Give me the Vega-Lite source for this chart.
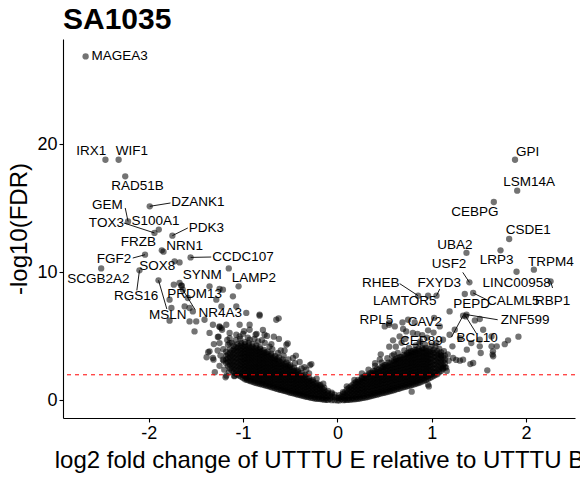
{
"$schema":"https://vega.github.io/schema/vega-lite/v6.json",
"width":512,"height":379,
"autosize":{"type":"none"},
"padding":{"left":63,"top":39,"right":5,"bottom":62},
"background":"white",
"title":{"text":"SA1035","anchor":"start","frame":"group","fontSize":30,"fontWeight":"bold","font":"Liberation Sans","color":"black","offset":4},
"config":{"view":{"stroke":null},
"axis":{"grid":false,"domainColor":"black","domainWidth":1.1,"tickColor":"black","tickWidth":1.1,"tickSize":4,"labelFont":"Liberation Sans","labelFontSize":18,"labelColor":"black","labelPadding":2,"titleFont":"Liberation Sans","titleFontSize":24,"titleFontWeight":"normal","titleColor":"black"}},
"datasets":{"pts":[
{"x":-2.67,"y":26.87,"g":"MAGEA3","lx":-2.31,"ly":26.87},
{"x":-2.46,"y":18.8,"g":"IRX1","lx":-2.61,"ly":19.51},
{"x":-2.32,"y":18.8,"g":"WIF1","lx":-2.18,"ly":19.51},
{"x":-2.25,"y":17.5,"g":"RAD51B","lx":-2.12,"ly":16.72},
{"x":-1.99,"y":15.16,"g":"DZANK1","lx":-1.48,"ly":15.47,"sx":-1.77,"sy":15.42},
{"x":-2.22,"y":13.98,"g":"GEM","lx":-2.44,"ly":15.29,"sx":-2.25,"sy":15.03},
{"x":-1.94,"y":13.08,"g":"TOX3","lx":-2.45,"ly":13.86,"sx":-2.265,"sy":13.86},
{"x":-1.894,"y":13.34,"g":"S100A1","lx":-1.93,"ly":13.98},
{"x":-1.75,"y":12.87,"g":"PDK3","lx":-1.39,"ly":13.47,"sx":-1.586,"sy":13.47},
{"x":-1.862,"y":11.72,"g":"FRZB","lx":-2.11,"ly":12.37},
{"x":-1.844,"y":11.62,"g":"NRN1","lx":-1.62,"ly":12.09},
{"x":-2.04,"y":11.38,"g":"FGF2","lx":-2.37,"ly":11.05,"sx":-2.17,"sy":11.12},
{"x":-1.557,"y":11.17,"g":"CCDC107","lx":-1.0,"ly":11.2,"sx":-1.338,"sy":11.2},
{"x":-1.727,"y":10.86,"g":"SOX8","lx":-1.91,"ly":10.52},
{"x":-2.505,"y":10.31,"g":"SCGB2A2","lx":-2.534,"ly":9.48},
{"x":-1.674,"y":10.78,"g":"SYNM","lx":-1.433,"ly":9.82},
{"x":-1.048,"y":8.91,"g":"LAMP2","lx":-0.885,"ly":9.53},
{"x":-2.099,"y":10.16,"g":"RGS16","lx":-2.134,"ly":8.13,"sx":-2.127,"sy":8.59},
{"x":-1.656,"y":8.96,"g":"PRDM13","lx":-1.515,"ly":8.34},
{"x":-1.897,"y":9.38,"g":"MSLN","lx":-1.798,"ly":6.7,"sx":-1.809,"sy":7.14},
{"x":-1.64,"y":8.65,"g":"NR4A3","lx":-1.242,"ly":6.83,"sx":-1.51,"sy":7.1},
{"x":1.884,"y":18.8,"g":"GPI","lx":2.017,"ly":19.38},
{"x":1.907,"y":16.38,"g":"LSM14A","lx":2.034,"ly":17.06},
{"x":1.659,"y":15.5,"g":"CEBPG","lx":1.458,"ly":14.69},
{"x":1.822,"y":12.61,"g":"CSDE1","lx":2.023,"ly":13.28},
{"x":1.369,"y":11.52,"g":"UBA2","lx":1.245,"ly":12.11},
{"x":1.73,"y":11.72,"g":"LRP3","lx":1.688,"ly":10.94},
{"x":1.4,"y":9.22,"g":"USF2","lx":1.185,"ly":10.66,"sx":1.33,"sy":10.0},
{"x":2.084,"y":10.21,"g":"TRPM4","lx":2.264,"ly":10.81},
{"x":1.9,"y":10.05,"g":"LINC00958","lx":1.9,"ly":9.17},
{"x":2.261,"y":9.3,"g":"RBP1","lx":2.282,"ly":7.73,"sx":2.282,"sy":8.78},
{"x":0.856,"y":8.18,"g":"RHEB","lx":0.46,"ly":9.17,"sx":0.661,"sy":9.12},
{"x":1.051,"y":8.18,"g":"FXYD3","lx":1.079,"ly":9.17,"sx":1.086,"sy":8.7},
{"x":0.962,"y":8.18,"g":"LAMTOR5","lx":0.714,"ly":7.73},
{"x":1.44,"y":8.39,"g":"CALML5","lx":1.864,"ly":7.73,"sx":1.582,"sy":7.87},
{"x":1.351,"y":8.31,"g":"PEPD","lx":1.423,"ly":7.55},
{"x":0.69,"y":6.09,"g":"RPL5","lx":0.414,"ly":6.3},
{"x":1.026,"y":6.44,"g":"CAV2","lx":0.927,"ly":6.09},
{"x":1.369,"y":6.7,"g":"ZNF599","lx":1.99,"ly":6.3,"sx":1.7,"sy":6.3},
{"x":1.333,"y":6.62,"g":"CEP89","lx":0.892,"ly":4.61,"sx":1.21,"sy":4.95},
{"x":1.362,"y":6.56,"g":"BCL10","lx":1.482,"ly":4.87,"sx":1.476,"sy":5.21},
{"x":-1.515,"y":5.39},{"x":-1.37,"y":3.77},{"x":-1.387,"y":3.37},{"x":-1.314,"y":3.18},{"x":-1.26,"y":4.98},{"x":-1.168,"y":4.72},{"x":-1.223,"y":5.52},{"x":-1.186,"y":1.81},{"x":-1.094,"y":1.89},{"x":-1.205,"y":3.1},{"x":-0.967,"y":1.76},{"x":-0.291,"y":2.75},{"x":-0.527,"y":4.45},{"x":-0.674,"y":4.98},{"x":-0.747,"y":5.04},{"x":-0.857,"y":5.2},
{"x":-1.152,"y":10.31},{"x":-1.356,"y":8.91},{"x":-1.214,"y":8.65},{"x":-1.108,"y":8.13},{"x":-1.284,"y":7.87},{"x":-1.072,"y":7.34},{"x":-1.497,"y":6.17},{"x":-1.409,"y":6.3},{"x":-1.32,"y":5.91},{"x":-1.25,"y":5.78},{"x":-1.178,"y":5.91},{"x":-1.356,"y":5.27},{"x":-1.268,"y":4.95},{"x":-1.143,"y":5.27},{"x":-1.037,"y":5.0},{"x":-0.931,"y":5.52},{"x":-0.867,"y":5.13},{"x":-0.772,"y":5.13},{"x":-0.648,"y":6.3},{"x":-1.356,"y":3.83},{"x":-1.32,"y":3.31},{"x":-1.143,"y":4.48},{"x":-0.825,"y":6.7},{"x":-0.931,"y":5.91},{"x":-1.23,"y":5.65},{"x":-1.214,"y":3.18},{"x":-1.178,"y":1.93},{"x":-1.09,"y":1.93},{"x":-0.276,"y":2.84},{"x":-0.541,"y":4.35},{"x":-0.471,"y":3.31},
{"x":-1.735,"y":9.04},{"x":-1.674,"y":9.17},{"x":-1.65,"y":8.96},{"x":-1.586,"y":8.0},{"x":-1.533,"y":6.95},{"x":-1.78,"y":7.87},{"x":-1.76,"y":7.22},{"x":-1.568,"y":7.22},{"x":-1.25,"y":8.7},{"x":-1.23,"y":7.34},{"x":-0.966,"y":6.83},{"x":-0.825,"y":6.62},{"x":-0.623,"y":6.41},{"x":-1.037,"y":5.91},{"x":-1.78,"y":6.23},{"x":-1.62,"y":7.34},{"x":-1.568,"y":6.17},{"x":-1.25,"y":5.73},{"x":-1.25,"y":4.48},{"x":-1.143,"y":4.87},{"x":-1.072,"y":5.13},{"x":-0.4,"y":3.0},{"x":-0.6,"y":3.9},{"x":-0.7,"y":4.4},{"x":-0.95,"y":4.9},{"x":-1.0,"y":5.2},{"x":-0.8,"y":4.7},{"x":-0.35,"y":2.6},
{"x":-0.22,"y":1.7},{"x":-0.3,"y":2.1},{"x":-0.38,"y":2.5},{"x":-0.45,"y":2.9},{"x":-0.52,"y":3.2},{"x":-0.57,"y":3.5},{"x":-0.63,"y":3.7},{"x":-0.69,"y":4.0},{"x":-0.72,"y":4.2},{"x":-0.77,"y":4.5},{"x":-0.84,"y":4.6},{"x":-0.88,"y":4.8},{"x":-0.93,"y":4.75},{"x":-1.03,"y":4.8},{"x":-1.08,"y":4.7},{"x":-1.12,"y":4.5},{"x":-1.16,"y":4.35},{"x":-1.21,"y":4.0},{"x":-1.24,"y":3.5},{"x":-1.27,"y":3.9},{"x":-1.31,"y":4.4},{"x":-0.99,"y":5.4},{"x":-0.79,"y":5.5},{"x":-0.62,"y":4.8},{"x":-0.56,"y":3.9},{"x":-0.44,"y":3.5},{"x":-0.33,"y":2.4},{"x":-0.15,"y":1.3},{"x":-1.2,"y":2.4},{"x":-1.25,"y":2.7},{"x":-1.3,"y":2.2},{"x":-1.15,"y":2.2},
{"x":0.59,"y":4.69},{"x":0.502,"y":5.78},{"x":0.548,"y":5.91},{"x":0.73,"y":5.39},{"x":0.8,"y":5.27},{"x":1.19,"y":6.95},{"x":1.12,"y":4.74},{"x":1.22,"y":4.22},{"x":1.227,"y":3.31},{"x":1.333,"y":3.18},{"x":1.44,"y":2.92},{"x":0.962,"y":1.23},{"x":1.12,"y":2.53},{"x":1.635,"y":4.22},{"x":1.652,"y":3.44},{"x":1.51,"y":4.74},{"x":1.19,"y":5.13},{"x":1.3,"y":4.87},
{"x":1.92,"y":4.98},{"x":1.775,"y":4.39},{"x":1.59,"y":2.35},{"x":1.646,"y":3.58},{"x":1.52,"y":3.7},{"x":1.373,"y":3.96},{"x":1.3,"y":3.1},{"x":1.26,"y":3.16},{"x":1.41,"y":2.84},{"x":1.153,"y":2.56},{"x":0.97,"y":1.09},{"x":1.1,"y":3.51},{"x":0.788,"y":0.68},
{"x":1.51,"y":6.36},{"x":1.458,"y":6.25},{"x":1.635,"y":5.0},{"x":1.546,"y":5.52},{"x":1.81,"y":4.69},{"x":1.69,"y":4.22},{"x":1.65,"y":3.83},{"x":1.086,"y":5.78},{"x":0.962,"y":5.47},{"x":0.82,"y":6.09},{"x":0.75,"y":6.3},{"x":0.548,"y":6.05},{"x":0.609,"y":5.78},{"x":0.697,"y":5.58},{"x":1.245,"y":5.52},{"x":1.42,"y":4.48},{"x":1.51,"y":4.22},{"x":0.45,"y":3.2},{"x":0.62,"y":4.2},{"x":0.68,"y":4.5},{"x":0.88,"y":4.6},{"x":0.95,"y":4.9},{"x":1.05,"y":4.5},{"x":0.9,"y":5.1},{"x":0.6,"y":3.6},{"x":0.4,"y":2.9},
{"x":0.18,"y":1.6},{"x":0.26,"y":2.1},{"x":0.33,"y":2.4},{"x":0.4,"y":2.7},{"x":0.47,"y":2.95},{"x":0.53,"y":3.3},{"x":0.58,"y":3.5},{"x":0.64,"y":3.7},{"x":0.71,"y":3.9},{"x":0.76,"y":4.1},{"x":0.83,"y":4.3},{"x":0.87,"y":4.45},{"x":0.93,"y":4.35},{"x":1.0,"y":4.3},{"x":1.04,"y":4.2},{"x":1.08,"y":4.05},{"x":1.13,"y":3.85},{"x":1.17,"y":3.6},{"x":1.18,"y":3.1},{"x":1.16,"y":2.3},{"x":0.55,"y":4.2},{"x":0.72,"y":4.8},{"x":0.85,"y":5.2},{"x":0.66,"y":5.0},{"x":1.02,"y":5.3},{"x":0.1,"y":1.1},{"x":0.46,"y":3.6},
{"x":0.0,"y":0.0},{"x":0.0,"y":0.2},
{"x":-0.03,"y":0.02},{"x":-0.03,"y":0.25},{"x":-0.03,"y":0.45},
{"x":-0.06,"y":0.02},{"x":-0.06,"y":0.25},{"x":-0.06,"y":0.5},{"x":-0.06,"y":0.6},
{"x":-0.1,"y":0.04},{"x":-0.1,"y":0.3},{"x":-0.1,"y":0.55},{"x":-0.1,"y":0.75},
{"x":-0.14,"y":0.06},{"x":-0.14,"y":0.3},{"x":-0.14,"y":0.55},{"x":-0.14,"y":0.8},{"x":-0.14,"y":1.0},
{"x":-0.18,"y":0.1},{"x":-0.18,"y":0.35},{"x":-0.18,"y":0.6},{"x":-0.18,"y":0.85},{"x":-0.18,"y":1.1},{"x":-0.18,"y":1.2},
{"x":-0.22,"y":0.13},{"x":-0.22,"y":0.4},{"x":-0.22,"y":0.65},{"x":-0.22,"y":0.9},{"x":-0.22,"y":1.15},{"x":-0.22,"y":1.35},
{"x":-0.26,"y":0.18},{"x":-0.26,"y":0.45},{"x":-0.26,"y":0.7},{"x":-0.26,"y":0.95},{"x":-0.26,"y":1.2},{"x":-0.26,"y":1.45},{"x":-0.26,"y":1.6},
{"x":-0.3,"y":0.24},{"x":-0.3,"y":0.5},{"x":-0.3,"y":0.75},{"x":-0.3,"y":1.0},{"x":-0.3,"y":1.25},{"x":-0.3,"y":1.5},{"x":-0.3,"y":1.75},
{"x":-0.34,"y":0.3},{"x":-0.34,"y":0.55},{"x":-0.34,"y":0.8},{"x":-0.34,"y":1.05},{"x":-0.34,"y":1.3},{"x":-0.34,"y":1.55},{"x":-0.34,"y":1.8},{"x":-0.34,"y":2.0},
{"x":-0.38,"y":0.38},{"x":-0.38,"y":0.62},{"x":-0.38,"y":0.88},{"x":-0.38,"y":1.12},{"x":-0.38,"y":1.38},{"x":-0.38,"y":1.62},{"x":-0.38,"y":1.88},{"x":-0.38,"y":2.15},
{"x":-0.42,"y":0.45},{"x":-0.42,"y":0.7},{"x":-0.42,"y":0.95},{"x":-0.42,"y":1.2},{"x":-0.42,"y":1.45},{"x":-0.42,"y":1.7},{"x":-0.42,"y":1.95},{"x":-0.42,"y":2.2},{"x":-0.42,"y":2.35},
{"x":-0.46,"y":0.53},{"x":-0.46,"y":0.78},{"x":-0.46,"y":1.03},{"x":-0.46,"y":1.28},{"x":-0.46,"y":1.53},{"x":-0.46,"y":1.78},{"x":-0.46,"y":2.03},{"x":-0.46,"y":2.28},{"x":-0.46,"y":2.55},
{"x":-0.5,"y":0.6},{"x":-0.5,"y":0.85},{"x":-0.5,"y":1.1},{"x":-0.5,"y":1.35},{"x":-0.5,"y":1.6},{"x":-0.5,"y":1.85},{"x":-0.5,"y":2.1},{"x":-0.5,"y":2.35},{"x":-0.5,"y":2.6},{"x":-0.5,"y":2.75},
{"x":-0.54,"y":0.7},{"x":-0.54,"y":0.95},{"x":-0.54,"y":1.2},{"x":-0.54,"y":1.45},{"x":-0.54,"y":1.7},{"x":-0.54,"y":1.95},{"x":-0.54,"y":2.2},{"x":-0.54,"y":2.45},{"x":-0.54,"y":2.7},{"x":-0.54,"y":2.95},
{"x":-0.58,"y":0.78},{"x":-0.58,"y":1.03},{"x":-0.58,"y":1.28},{"x":-0.58,"y":1.53},{"x":-0.58,"y":1.78},{"x":-0.58,"y":2.03},{"x":-0.58,"y":2.28},{"x":-0.58,"y":2.53},{"x":-0.58,"y":2.78},{"x":-0.58,"y":3.03},{"x":-0.58,"y":3.2},
{"x":-0.62,"y":0.85},{"x":-0.62,"y":1.1},{"x":-0.62,"y":1.35},{"x":-0.62,"y":1.6},{"x":-0.62,"y":1.85},{"x":-0.62,"y":2.1},{"x":-0.62,"y":2.35},{"x":-0.62,"y":2.6},{"x":-0.62,"y":2.85},{"x":-0.62,"y":3.1},{"x":-0.62,"y":3.35},
{"x":-0.66,"y":0.95},{"x":-0.66,"y":1.2},{"x":-0.66,"y":1.45},{"x":-0.66,"y":1.7},{"x":-0.66,"y":1.95},{"x":-0.66,"y":2.2},{"x":-0.66,"y":2.45},{"x":-0.66,"y":2.7},{"x":-0.66,"y":2.95},{"x":-0.66,"y":3.2},{"x":-0.66,"y":3.45},
{"x":-0.7,"y":1.03},{"x":-0.7,"y":1.28},{"x":-0.7,"y":1.53},{"x":-0.7,"y":1.78},{"x":-0.7,"y":2.03},{"x":-0.7,"y":2.28},{"x":-0.7,"y":2.53},{"x":-0.7,"y":2.78},{"x":-0.7,"y":3.03},{"x":-0.7,"y":3.28},{"x":-0.7,"y":3.53},{"x":-0.7,"y":3.65},
{"x":-0.74,"y":1.12},{"x":-0.74,"y":1.37},{"x":-0.74,"y":1.62},{"x":-0.74,"y":1.87},{"x":-0.74,"y":2.12},{"x":-0.74,"y":2.37},{"x":-0.74,"y":2.62},{"x":-0.74,"y":2.87},{"x":-0.74,"y":3.12},{"x":-0.74,"y":3.37},{"x":-0.74,"y":3.62},{"x":-0.74,"y":3.8},
{"x":-0.78,"y":1.2},{"x":-0.78,"y":1.45},{"x":-0.78,"y":1.7},{"x":-0.78,"y":1.95},{"x":-0.78,"y":2.2},{"x":-0.78,"y":2.45},{"x":-0.78,"y":2.7},{"x":-0.78,"y":2.95},{"x":-0.78,"y":3.2},{"x":-0.78,"y":3.45},{"x":-0.78,"y":3.7},{"x":-0.78,"y":3.95},
{"x":-0.82,"y":1.28},{"x":-0.82,"y":1.53},{"x":-0.82,"y":1.78},{"x":-0.82,"y":2.03},{"x":-0.82,"y":2.28},{"x":-0.82,"y":2.53},{"x":-0.82,"y":2.78},{"x":-0.82,"y":3.03},{"x":-0.82,"y":3.28},{"x":-0.82,"y":3.53},{"x":-0.82,"y":3.78},{"x":-0.82,"y":4.03},{"x":-0.82,"y":4.15},
{"x":-0.86,"y":1.36},{"x":-0.86,"y":1.61},{"x":-0.86,"y":1.86},{"x":-0.86,"y":2.11},{"x":-0.86,"y":2.36},{"x":-0.86,"y":2.61},{"x":-0.86,"y":2.86},{"x":-0.86,"y":3.11},{"x":-0.86,"y":3.36},{"x":-0.86,"y":3.61},{"x":-0.86,"y":3.86},{"x":-0.86,"y":4.11},{"x":-0.86,"y":4.3},
{"x":-0.9,"y":1.45},{"x":-0.9,"y":1.7},{"x":-0.9,"y":1.95},{"x":-0.9,"y":2.2},{"x":-0.9,"y":2.45},{"x":-0.9,"y":2.7},{"x":-0.9,"y":2.95},{"x":-0.9,"y":3.2},{"x":-0.9,"y":3.45},{"x":-0.9,"y":3.7},{"x":-0.9,"y":3.95},{"x":-0.9,"y":4.2},{"x":-0.9,"y":4.4},
{"x":-0.94,"y":1.55},{"x":-0.94,"y":1.8},{"x":-0.94,"y":2.05},{"x":-0.94,"y":2.3},{"x":-0.94,"y":2.55},{"x":-0.94,"y":2.8},{"x":-0.94,"y":3.05},{"x":-0.94,"y":3.3},{"x":-0.94,"y":3.55},{"x":-0.94,"y":3.8},{"x":-0.94,"y":4.05},{"x":-0.94,"y":4.3},{"x":-0.94,"y":4.5},
{"x":-0.98,"y":1.65},{"x":-0.98,"y":1.9},{"x":-0.98,"y":2.15},{"x":-0.98,"y":2.4},{"x":-0.98,"y":2.65},{"x":-0.98,"y":2.9},{"x":-0.98,"y":3.15},{"x":-0.98,"y":3.4},{"x":-0.98,"y":3.65},{"x":-0.98,"y":3.9},{"x":-0.98,"y":4.15},{"x":-0.98,"y":4.4},{"x":-0.98,"y":4.55},
{"x":-1.02,"y":1.85},{"x":-1.02,"y":2.1},{"x":-1.02,"y":2.35},{"x":-1.02,"y":2.6},{"x":-1.02,"y":2.85},{"x":-1.02,"y":3.1},{"x":-1.02,"y":3.35},{"x":-1.02,"y":3.6},{"x":-1.02,"y":3.85},{"x":-1.02,"y":4.1},{"x":-1.02,"y":4.35},{"x":-1.02,"y":4.5},
{"x":-1.06,"y":2.0},{"x":-1.06,"y":2.3},{"x":-1.06,"y":2.6},{"x":-1.06,"y":2.9},{"x":-1.06,"y":3.2},{"x":-1.06,"y":3.5},{"x":-1.06,"y":3.8},{"x":-1.06,"y":4.1},{"x":-1.06,"y":4.4},
{"x":-1.1,"y":2.2},{"x":-1.1,"y":2.5},{"x":-1.1,"y":2.8},{"x":-1.1,"y":3.1},{"x":-1.1,"y":3.4},{"x":-1.1,"y":3.7},{"x":-1.1,"y":4.0},{"x":-1.1,"y":4.25},
{"x":-1.14,"y":2.5},{"x":-1.14,"y":2.8},{"x":-1.14,"y":3.1},{"x":-1.14,"y":3.4},{"x":-1.14,"y":3.7},{"x":-1.14,"y":4.0},
{"x":-1.18,"y":2.9},{"x":-1.18,"y":3.2},{"x":-1.18,"y":3.5},{"x":-1.18,"y":3.8},
{"x":-0.08,"y":0.12},{"x":-0.08,"y":0.38},
{"x":-0.12,"y":0.05},{"x":-0.12,"y":0.18},{"x":-0.12,"y":0.42},{"x":-0.12,"y":0.65},
{"x":-0.16,"y":0.08},{"x":-0.16,"y":0.2},{"x":-0.16,"y":0.45},{"x":-0.16,"y":0.7},{"x":-0.16,"y":0.92},
{"x":-0.2,"y":0.12},{"x":-0.2,"y":0.25},{"x":-0.2,"y":0.5},{"x":-0.2,"y":0.75},{"x":-0.2,"y":1.0},{"x":-0.2,"y":1.22},
{"x":-0.24,"y":0.15},{"x":-0.24,"y":0.28},{"x":-0.24,"y":0.55},{"x":-0.24,"y":0.8},{"x":-0.24,"y":1.05},{"x":-0.24,"y":1.3},
{"x":-0.28,"y":0.2},{"x":-0.28,"y":0.35},{"x":-0.28,"y":0.6},{"x":-0.28,"y":0.85},{"x":-0.28,"y":1.1},{"x":-0.28,"y":1.35},{"x":-0.28,"y":1.55},
{"x":-0.32,"y":0.27},{"x":-0.32,"y":0.4},{"x":-0.32,"y":0.65},{"x":-0.32,"y":0.9},{"x":-0.32,"y":1.15},{"x":-0.32,"y":1.4},{"x":-0.32,"y":1.65},
{"x":-0.36,"y":0.34},{"x":-0.36,"y":0.48},{"x":-0.36,"y":0.72},{"x":-0.36,"y":0.98},{"x":-0.36,"y":1.22},{"x":-0.36,"y":1.48},{"x":-0.36,"y":1.72},{"x":-0.36,"y":1.95},
{"x":-0.4,"y":0.42},{"x":-0.4,"y":0.55},{"x":-0.4,"y":0.8},{"x":-0.4,"y":1.05},{"x":-0.4,"y":1.3},{"x":-0.4,"y":1.55},{"x":-0.4,"y":1.8},{"x":-0.4,"y":2.05},
{"x":-0.44,"y":0.5},{"x":-0.44,"y":0.62},{"x":-0.44,"y":0.88},{"x":-0.44,"y":1.12},{"x":-0.44,"y":1.38},{"x":-0.44,"y":1.62},{"x":-0.44,"y":1.88},{"x":-0.44,"y":2.12},{"x":-0.44,"y":2.35},
{"x":-0.48,"y":0.57},{"x":-0.48,"y":0.72},{"x":-0.48,"y":0.98},{"x":-0.48,"y":1.22},{"x":-0.48,"y":1.48},{"x":-0.48,"y":1.72},{"x":-0.48,"y":1.98},{"x":-0.48,"y":2.22},{"x":-0.48,"y":2.45},
{"x":-0.52,"y":0.65},{"x":-0.52,"y":0.8},{"x":-0.52,"y":1.05},{"x":-0.52,"y":1.3},{"x":-0.52,"y":1.55},{"x":-0.52,"y":1.8},{"x":-0.52,"y":2.05},{"x":-0.52,"y":2.3},{"x":-0.52,"y":2.55},{"x":-0.52,"y":2.75},
{"x":-0.56,"y":0.74},{"x":-0.56,"y":0.88},{"x":-0.56,"y":1.12},{"x":-0.56,"y":1.38},{"x":-0.56,"y":1.62},{"x":-0.56,"y":1.88},{"x":-0.56,"y":2.12},{"x":-0.56,"y":2.38},{"x":-0.56,"y":2.62},{"x":-0.56,"y":2.85},
{"x":-0.6,"y":0.82},{"x":-0.6,"y":0.95},{"x":-0.6,"y":1.2},{"x":-0.6,"y":1.45},{"x":-0.6,"y":1.7},{"x":-0.6,"y":1.95},{"x":-0.6,"y":2.2},{"x":-0.6,"y":2.45},{"x":-0.6,"y":2.7},{"x":-0.6,"y":2.95},
{"x":-0.64,"y":0.9},{"x":-0.64,"y":1.05},{"x":-0.64,"y":1.3},{"x":-0.64,"y":1.55},{"x":-0.64,"y":1.8},{"x":-0.64,"y":2.05},{"x":-0.64,"y":2.3},{"x":-0.64,"y":2.55},{"x":-0.64,"y":2.8},{"x":-0.64,"y":3.05},{"x":-0.64,"y":3.25},
{"x":-0.68,"y":0.98},{"x":-0.68,"y":1.12},{"x":-0.68,"y":1.38},{"x":-0.68,"y":1.62},{"x":-0.68,"y":1.88},{"x":-0.68,"y":2.12},{"x":-0.68,"y":2.38},{"x":-0.68,"y":2.62},{"x":-0.68,"y":2.88},{"x":-0.68,"y":3.12},{"x":-0.68,"y":3.35},
{"x":-0.72,"y":1.08},{"x":-0.72,"y":1.2},{"x":-0.72,"y":1.45},{"x":-0.72,"y":1.7},{"x":-0.72,"y":1.95},{"x":-0.72,"y":2.2},{"x":-0.72,"y":2.45},{"x":-0.72,"y":2.7},{"x":-0.72,"y":2.95},{"x":-0.72,"y":3.2},{"x":-0.72,"y":3.45},
{"x":-0.76,"y":1.16},{"x":-0.76,"y":1.3},{"x":-0.76,"y":1.55},{"x":-0.76,"y":1.8},{"x":-0.76,"y":2.05},{"x":-0.76,"y":2.3},{"x":-0.76,"y":2.55},{"x":-0.76,"y":2.8},{"x":-0.76,"y":3.05},{"x":-0.76,"y":3.3},{"x":-0.76,"y":3.55},{"x":-0.76,"y":3.75},
{"x":-0.8,"y":1.25},{"x":-0.8,"y":1.38},{"x":-0.8,"y":1.62},{"x":-0.8,"y":1.88},{"x":-0.8,"y":2.12},{"x":-0.8,"y":2.38},{"x":-0.8,"y":2.62},{"x":-0.8,"y":2.88},{"x":-0.8,"y":3.12},{"x":-0.8,"y":3.38},{"x":-0.8,"y":3.62},{"x":-0.8,"y":3.85},
{"x":-0.84,"y":1.32},{"x":-0.84,"y":1.45},{"x":-0.84,"y":1.7},{"x":-0.84,"y":1.95},{"x":-0.84,"y":2.2},{"x":-0.84,"y":2.45},{"x":-0.84,"y":2.7},{"x":-0.84,"y":2.95},{"x":-0.84,"y":3.2},{"x":-0.84,"y":3.45},{"x":-0.84,"y":3.7},{"x":-0.84,"y":3.95},
{"x":-0.88,"y":1.4},{"x":-0.88,"y":1.55},{"x":-0.88,"y":1.8},{"x":-0.88,"y":2.05},{"x":-0.88,"y":2.3},{"x":-0.88,"y":2.55},{"x":-0.88,"y":2.8},{"x":-0.88,"y":3.05},{"x":-0.88,"y":3.3},{"x":-0.88,"y":3.55},{"x":-0.88,"y":3.8},{"x":-0.88,"y":4.05},
{"x":-0.92,"y":1.5},{"x":-0.92,"y":1.62},{"x":-0.92,"y":1.88},{"x":-0.92,"y":2.12},{"x":-0.92,"y":2.38},{"x":-0.92,"y":2.62},{"x":-0.92,"y":2.88},{"x":-0.92,"y":3.12},{"x":-0.92,"y":3.38},{"x":-0.92,"y":3.62},{"x":-0.92,"y":3.88},{"x":-0.92,"y":4.12},
{"x":-0.96,"y":1.6},{"x":-0.96,"y":1.72},{"x":-0.96,"y":1.98},{"x":-0.96,"y":2.22},{"x":-0.96,"y":2.48},{"x":-0.96,"y":2.72},{"x":-0.96,"y":2.98},{"x":-0.96,"y":3.22},{"x":-0.96,"y":3.48},{"x":-0.96,"y":3.72},{"x":-0.96,"y":3.98},{"x":-0.96,"y":4.22},
{"x":-1.0,"y":1.75},{"x":-1.0,"y":1.98},{"x":-1.0,"y":2.22},{"x":-1.0,"y":2.48},{"x":-1.0,"y":2.72},{"x":-1.0,"y":2.98},{"x":-1.0,"y":3.22},{"x":-1.0,"y":3.48},{"x":-1.0,"y":3.72},{"x":-1.0,"y":3.98},{"x":-1.0,"y":4.22},
{"x":-1.04,"y":1.92},{"x":-1.04,"y":2.15},{"x":-1.04,"y":2.45},{"x":-1.04,"y":2.75},{"x":-1.04,"y":3.05},{"x":-1.04,"y":3.35},{"x":-1.04,"y":3.65},{"x":-1.04,"y":3.95},{"x":-1.04,"y":4.25},
{"x":-1.08,"y":2.1},{"x":-1.08,"y":2.4},{"x":-1.08,"y":2.7},{"x":-1.08,"y":3.0},{"x":-1.08,"y":3.3},{"x":-1.08,"y":3.6},{"x":-1.08,"y":3.9},{"x":-1.08,"y":4.15},
{"x":-1.12,"y":2.35},{"x":-1.12,"y":2.65},{"x":-1.12,"y":2.95},{"x":-1.12,"y":3.25},{"x":-1.12,"y":3.55},{"x":-1.12,"y":3.85},
{"x":-1.16,"y":2.7},{"x":-1.16,"y":3.0},{"x":-1.16,"y":3.3},{"x":-1.16,"y":3.6},
{"x":0.02,"y":0.0},{"x":0.02,"y":0.2},{"x":0.02,"y":0.4},
{"x":0.06,"y":0.02},{"x":0.06,"y":0.25},{"x":0.06,"y":0.5},{"x":0.06,"y":0.65},
{"x":0.1,"y":0.04},{"x":0.1,"y":0.3},{"x":0.1,"y":0.55},{"x":0.1,"y":0.85},
{"x":0.14,"y":0.06},{"x":0.14,"y":0.32},{"x":0.14,"y":0.58},{"x":0.14,"y":0.84},{"x":0.14,"y":1.1},
{"x":0.18,"y":0.09},{"x":0.18,"y":0.35},{"x":0.18,"y":0.6},{"x":0.18,"y":0.85},{"x":0.18,"y":1.1},{"x":0.18,"y":1.35},
{"x":0.22,"y":0.13},{"x":0.22,"y":0.4},{"x":0.22,"y":0.65},{"x":0.22,"y":0.9},{"x":0.22,"y":1.15},{"x":0.22,"y":1.4},{"x":0.22,"y":1.6},
{"x":0.26,"y":0.18},{"x":0.26,"y":0.45},{"x":0.26,"y":0.7},{"x":0.26,"y":0.95},{"x":0.26,"y":1.2},{"x":0.26,"y":1.45},{"x":0.26,"y":1.7},{"x":0.26,"y":1.8},
{"x":0.3,"y":0.23},{"x":0.3,"y":0.5},{"x":0.3,"y":0.75},{"x":0.3,"y":1.0},{"x":0.3,"y":1.25},{"x":0.3,"y":1.5},{"x":0.3,"y":1.75},{"x":0.3,"y":1.95},
{"x":0.34,"y":0.3},{"x":0.34,"y":0.55},{"x":0.34,"y":0.8},{"x":0.34,"y":1.05},{"x":0.34,"y":1.3},{"x":0.34,"y":1.55},{"x":0.34,"y":1.8},{"x":0.34,"y":2.1},
{"x":0.38,"y":0.38},{"x":0.38,"y":0.63},{"x":0.38,"y":0.88},{"x":0.38,"y":1.13},{"x":0.38,"y":1.38},{"x":0.38,"y":1.63},{"x":0.38,"y":1.88},{"x":0.38,"y":2.13},{"x":0.38,"y":2.3},
{"x":0.42,"y":0.45},{"x":0.42,"y":0.7},{"x":0.42,"y":0.95},{"x":0.42,"y":1.2},{"x":0.42,"y":1.45},{"x":0.42,"y":1.7},{"x":0.42,"y":1.95},{"x":0.42,"y":2.2},{"x":0.42,"y":2.45},
{"x":0.46,"y":0.53},{"x":0.46,"y":0.78},{"x":0.46,"y":1.03},{"x":0.46,"y":1.28},{"x":0.46,"y":1.53},{"x":0.46,"y":1.78},{"x":0.46,"y":2.03},{"x":0.46,"y":2.28},{"x":0.46,"y":2.55},
{"x":0.5,"y":0.6},{"x":0.5,"y":0.85},{"x":0.5,"y":1.1},{"x":0.5,"y":1.35},{"x":0.5,"y":1.6},{"x":0.5,"y":1.85},{"x":0.5,"y":2.1},{"x":0.5,"y":2.35},{"x":0.5,"y":2.6},{"x":0.5,"y":2.75},
{"x":0.54,"y":0.68},{"x":0.54,"y":0.93},{"x":0.54,"y":1.18},{"x":0.54,"y":1.43},{"x":0.54,"y":1.68},{"x":0.54,"y":1.93},{"x":0.54,"y":2.18},{"x":0.54,"y":2.43},{"x":0.54,"y":2.68},{"x":0.54,"y":2.95},
{"x":0.58,"y":0.76},{"x":0.58,"y":1.01},{"x":0.58,"y":1.26},{"x":0.58,"y":1.51},{"x":0.58,"y":1.76},{"x":0.58,"y":2.01},{"x":0.58,"y":2.26},{"x":0.58,"y":2.51},{"x":0.58,"y":2.76},{"x":0.58,"y":3.05},
{"x":0.62,"y":0.85},{"x":0.62,"y":1.1},{"x":0.62,"y":1.35},{"x":0.62,"y":1.6},{"x":0.62,"y":1.85},{"x":0.62,"y":2.1},{"x":0.62,"y":2.35},{"x":0.62,"y":2.6},{"x":0.62,"y":2.85},{"x":0.62,"y":3.1},{"x":0.62,"y":3.25},
{"x":0.66,"y":0.93},{"x":0.66,"y":1.18},{"x":0.66,"y":1.43},{"x":0.66,"y":1.68},{"x":0.66,"y":1.93},{"x":0.66,"y":2.18},{"x":0.66,"y":2.43},{"x":0.66,"y":2.68},{"x":0.66,"y":2.93},{"x":0.66,"y":3.18},{"x":0.66,"y":3.4},
{"x":0.7,"y":1.02},{"x":0.7,"y":1.27},{"x":0.7,"y":1.52},{"x":0.7,"y":1.77},{"x":0.7,"y":2.02},{"x":0.7,"y":2.27},{"x":0.7,"y":2.52},{"x":0.7,"y":2.77},{"x":0.7,"y":3.02},{"x":0.7,"y":3.27},{"x":0.7,"y":3.55},
{"x":0.74,"y":1.1},{"x":0.74,"y":1.35},{"x":0.74,"y":1.6},{"x":0.74,"y":1.85},{"x":0.74,"y":2.1},{"x":0.74,"y":2.35},{"x":0.74,"y":2.6},{"x":0.74,"y":2.85},{"x":0.74,"y":3.1},{"x":0.74,"y":3.35},{"x":0.74,"y":3.6},{"x":0.74,"y":3.7},
{"x":0.78,"y":1.18},{"x":0.78,"y":1.43},{"x":0.78,"y":1.68},{"x":0.78,"y":1.93},{"x":0.78,"y":2.18},{"x":0.78,"y":2.43},{"x":0.78,"y":2.68},{"x":0.78,"y":2.93},{"x":0.78,"y":3.18},{"x":0.78,"y":3.43},{"x":0.78,"y":3.68},{"x":0.78,"y":3.85},
{"x":0.82,"y":1.27},{"x":0.82,"y":1.52},{"x":0.82,"y":1.77},{"x":0.82,"y":2.02},{"x":0.82,"y":2.27},{"x":0.82,"y":2.52},{"x":0.82,"y":2.77},{"x":0.82,"y":3.02},{"x":0.82,"y":3.27},{"x":0.82,"y":3.52},{"x":0.82,"y":3.77},{"x":0.82,"y":3.95},
{"x":0.86,"y":1.36},{"x":0.86,"y":1.61},{"x":0.86,"y":1.86},{"x":0.86,"y":2.11},{"x":0.86,"y":2.36},{"x":0.86,"y":2.61},{"x":0.86,"y":2.86},{"x":0.86,"y":3.11},{"x":0.86,"y":3.36},{"x":0.86,"y":3.61},{"x":0.86,"y":3.86},{"x":0.86,"y":4.05},
{"x":0.9,"y":1.48},{"x":0.9,"y":1.73},{"x":0.9,"y":1.98},{"x":0.9,"y":2.23},{"x":0.9,"y":2.48},{"x":0.9,"y":2.73},{"x":0.9,"y":2.98},{"x":0.9,"y":3.23},{"x":0.9,"y":3.48},{"x":0.9,"y":3.73},{"x":0.9,"y":3.98},{"x":0.9,"y":4.1},
{"x":0.94,"y":1.6},{"x":0.94,"y":1.85},{"x":0.94,"y":2.1},{"x":0.94,"y":2.35},{"x":0.94,"y":2.6},{"x":0.94,"y":2.85},{"x":0.94,"y":3.1},{"x":0.94,"y":3.35},{"x":0.94,"y":3.6},{"x":0.94,"y":3.85},{"x":0.94,"y":4.1},
{"x":0.98,"y":1.75},{"x":0.98,"y":2.0},{"x":0.98,"y":2.25},{"x":0.98,"y":2.5},{"x":0.98,"y":2.75},{"x":0.98,"y":3.0},{"x":0.98,"y":3.25},{"x":0.98,"y":3.5},{"x":0.98,"y":3.75},{"x":0.98,"y":4.0},
{"x":1.02,"y":1.9},{"x":1.02,"y":2.2},{"x":1.02,"y":2.5},{"x":1.02,"y":2.8},{"x":1.02,"y":3.1},{"x":1.02,"y":3.4},{"x":1.02,"y":3.7},{"x":1.02,"y":3.95},
{"x":1.06,"y":2.05},{"x":1.06,"y":2.35},{"x":1.06,"y":2.65},{"x":1.06,"y":2.95},{"x":1.06,"y":3.25},{"x":1.06,"y":3.55},{"x":1.06,"y":3.85},
{"x":1.1,"y":2.3},{"x":1.1,"y":2.6},{"x":1.1,"y":2.9},{"x":1.1,"y":3.2},{"x":1.1,"y":3.5},{"x":1.1,"y":3.75},
{"x":1.14,"y":2.6},{"x":1.14,"y":2.9},{"x":1.14,"y":3.2},{"x":1.14,"y":3.5},
{"x":0.04,"y":0.1},{"x":0.04,"y":0.3},
{"x":0.08,"y":0.03},{"x":0.08,"y":0.15},{"x":0.08,"y":0.4},{"x":0.08,"y":0.62},
{"x":0.12,"y":0.05},{"x":0.12,"y":0.18},{"x":0.12,"y":0.45},{"x":0.12,"y":0.7},{"x":0.12,"y":0.95},
{"x":0.16,"y":0.08},{"x":0.16,"y":0.2},{"x":0.16,"y":0.48},{"x":0.16,"y":0.72},{"x":0.16,"y":0.98},{"x":0.16,"y":1.2},
{"x":0.2,"y":0.11},{"x":0.2,"y":0.25},{"x":0.2,"y":0.52},{"x":0.2,"y":0.78},{"x":0.2,"y":1.02},{"x":0.2,"y":1.28},{"x":0.2,"y":1.45},
{"x":0.24,"y":0.15},{"x":0.24,"y":0.3},{"x":0.24,"y":0.58},{"x":0.24,"y":0.82},{"x":0.24,"y":1.08},{"x":0.24,"y":1.32},{"x":0.24,"y":1.55},
{"x":0.28,"y":0.2},{"x":0.28,"y":0.35},{"x":0.28,"y":0.62},{"x":0.28,"y":0.88},{"x":0.28,"y":1.12},{"x":0.28,"y":1.38},{"x":0.28,"y":1.62},{"x":0.28,"y":1.82},
{"x":0.32,"y":0.26},{"x":0.32,"y":0.42},{"x":0.32,"y":0.68},{"x":0.32,"y":0.92},{"x":0.32,"y":1.18},{"x":0.32,"y":1.42},{"x":0.32,"y":1.68},{"x":0.32,"y":1.95},
{"x":0.36,"y":0.34},{"x":0.36,"y":0.5},{"x":0.36,"y":0.75},{"x":0.36,"y":1.0},{"x":0.36,"y":1.25},{"x":0.36,"y":1.5},{"x":0.36,"y":1.75},{"x":0.36,"y":2.0},{"x":0.36,"y":2.15},
{"x":0.4,"y":0.42},{"x":0.4,"y":0.58},{"x":0.4,"y":0.82},{"x":0.4,"y":1.08},{"x":0.4,"y":1.32},{"x":0.4,"y":1.58},{"x":0.4,"y":1.82},{"x":0.4,"y":2.08},{"x":0.4,"y":2.3},
{"x":0.44,"y":0.5},{"x":0.44,"y":0.65},{"x":0.44,"y":0.9},{"x":0.44,"y":1.15},{"x":0.44,"y":1.4},{"x":0.44,"y":1.65},{"x":0.44,"y":1.9},{"x":0.44,"y":2.15},{"x":0.44,"y":2.4},
{"x":0.48,"y":0.57},{"x":0.48,"y":0.72},{"x":0.48,"y":0.98},{"x":0.48,"y":1.22},{"x":0.48,"y":1.48},{"x":0.48,"y":1.72},{"x":0.48,"y":1.98},{"x":0.48,"y":2.22},{"x":0.48,"y":2.48},{"x":0.48,"y":2.65},
{"x":0.52,"y":0.64},{"x":0.52,"y":0.8},{"x":0.52,"y":1.05},{"x":0.52,"y":1.3},{"x":0.52,"y":1.55},{"x":0.52,"y":1.8},{"x":0.52,"y":2.05},{"x":0.52,"y":2.3},{"x":0.52,"y":2.55},{"x":0.52,"y":2.8},
{"x":0.56,"y":0.72},{"x":0.56,"y":0.88},{"x":0.56,"y":1.12},{"x":0.56,"y":1.38},{"x":0.56,"y":1.62},{"x":0.56,"y":1.88},{"x":0.56,"y":2.12},{"x":0.56,"y":2.38},{"x":0.56,"y":2.62},{"x":0.56,"y":2.88},
{"x":0.6,"y":0.8},{"x":0.6,"y":0.98},{"x":0.6,"y":1.22},{"x":0.6,"y":1.48},{"x":0.6,"y":1.72},{"x":0.6,"y":1.98},{"x":0.6,"y":2.22},{"x":0.6,"y":2.48},{"x":0.6,"y":2.72},{"x":0.6,"y":2.98},{"x":0.6,"y":3.15},
{"x":0.64,"y":0.9},{"x":0.64,"y":1.05},{"x":0.64,"y":1.3},{"x":0.64,"y":1.55},{"x":0.64,"y":1.8},{"x":0.64,"y":2.05},{"x":0.64,"y":2.3},{"x":0.64,"y":2.55},{"x":0.64,"y":2.8},{"x":0.64,"y":3.05},{"x":0.64,"y":3.3},
{"x":0.68,"y":0.98},{"x":0.68,"y":1.15},{"x":0.68,"y":1.4},{"x":0.68,"y":1.65},{"x":0.68,"y":1.9},{"x":0.68,"y":2.15},{"x":0.68,"y":2.4},{"x":0.68,"y":2.65},{"x":0.68,"y":2.9},{"x":0.68,"y":3.15},{"x":0.68,"y":3.4},
{"x":0.72,"y":1.06},{"x":0.72,"y":1.22},{"x":0.72,"y":1.48},{"x":0.72,"y":1.72},{"x":0.72,"y":1.98},{"x":0.72,"y":2.22},{"x":0.72,"y":2.48},{"x":0.72,"y":2.72},{"x":0.72,"y":2.98},{"x":0.72,"y":3.22},{"x":0.72,"y":3.48},
{"x":0.76,"y":1.14},{"x":0.76,"y":1.3},{"x":0.76,"y":1.55},{"x":0.76,"y":1.8},{"x":0.76,"y":2.05},{"x":0.76,"y":2.3},{"x":0.76,"y":2.55},{"x":0.76,"y":2.8},{"x":0.76,"y":3.05},{"x":0.76,"y":3.3},{"x":0.76,"y":3.55},{"x":0.76,"y":3.75},
{"x":0.8,"y":1.22},{"x":0.8,"y":1.4},{"x":0.8,"y":1.65},{"x":0.8,"y":1.9},{"x":0.8,"y":2.15},{"x":0.8,"y":2.4},{"x":0.8,"y":2.65},{"x":0.8,"y":2.9},{"x":0.8,"y":3.15},{"x":0.8,"y":3.4},{"x":0.8,"y":3.65},{"x":0.8,"y":3.85},
{"x":0.84,"y":1.32},{"x":0.84,"y":1.48},{"x":0.84,"y":1.72},{"x":0.84,"y":1.98},{"x":0.84,"y":2.22},{"x":0.84,"y":2.48},{"x":0.84,"y":2.72},{"x":0.84,"y":2.98},{"x":0.84,"y":3.22},{"x":0.84,"y":3.48},{"x":0.84,"y":3.72},{"x":0.84,"y":3.95},
{"x":0.88,"y":1.42},{"x":0.88,"y":1.6},{"x":0.88,"y":1.85},{"x":0.88,"y":2.1},{"x":0.88,"y":2.35},{"x":0.88,"y":2.6},{"x":0.88,"y":2.85},{"x":0.88,"y":3.1},{"x":0.88,"y":3.35},{"x":0.88,"y":3.6},{"x":0.88,"y":3.85},
{"x":0.92,"y":1.55},{"x":0.92,"y":1.72},{"x":0.92,"y":1.98},{"x":0.92,"y":2.22},{"x":0.92,"y":2.48},{"x":0.92,"y":2.72},{"x":0.92,"y":2.98},{"x":0.92,"y":3.22},{"x":0.92,"y":3.48},{"x":0.92,"y":3.72},{"x":0.92,"y":3.98},
{"x":0.96,"y":1.68},{"x":0.96,"y":1.88},{"x":0.96,"y":2.12},{"x":0.96,"y":2.38},{"x":0.96,"y":2.62},{"x":0.96,"y":2.88},{"x":0.96,"y":3.12},{"x":0.96,"y":3.38},{"x":0.96,"y":3.62},{"x":0.96,"y":3.88},
{"x":1.0,"y":1.82},{"x":1.0,"y":2.05},{"x":1.0,"y":2.35},{"x":1.0,"y":2.65},{"x":1.0,"y":2.95},{"x":1.0,"y":3.25},{"x":1.0,"y":3.55},{"x":1.0,"y":3.85},
{"x":1.04,"y":1.98},{"x":1.04,"y":2.2},{"x":1.04,"y":2.5},{"x":1.04,"y":2.8},{"x":1.04,"y":3.1},{"x":1.04,"y":3.4},{"x":1.04,"y":3.7},
{"x":1.08,"y":2.2},{"x":1.08,"y":2.45},{"x":1.08,"y":2.75},{"x":1.08,"y":3.05},{"x":1.08,"y":3.35},{"x":1.08,"y":3.65},
{"x":1.12,"y":2.45},{"x":1.12,"y":2.75},{"x":1.12,"y":3.05},{"x":1.12,"y":3.35}
]},
"layer":[
{"data":{"name":"pts"},
 "mark":{"type":"circle","size":40,"color":"black","opacity":0.55},
 "encoding":{
  "x":{"field":"x","type":"quantitative","scale":{"domain":[-2.91,2.52],"nice":false,"zero":false},
   "axis":{"title":"log2 fold change of UTTTU E relative to UTTTU B","values":[-2,-1,0,1,2],"labelExpr":"'' + datum.value","titlePadding":6}},
  "y":{"field":"y","type":"quantitative","scale":{"domain":[-1.375,28.23],"nice":false,"zero":false},
   "axis":{"title":"-log10(FDR)","values":[0,10,20],"labelExpr":"'' + datum.value","titlePadding":5}}}},
{"data":{"values":[{"t":2}]},
 "mark":{"type":"rule","color":"red","strokeWidth":1,"strokeDash":[4,4]},
 "encoding":{"y":{"field":"t","type":"quantitative","scale":{"domain":[-1.375,28.23],"nice":false,"zero":false}}}},
{"data":{"name":"pts"},
 "transform":[{"filter":"isValid(datum.sx)"}],
 "mark":{"type":"rule","color":"black","strokeWidth":0.9},
 "encoding":{
  "x":{"field":"x","type":"quantitative","scale":{"domain":[-2.91,2.52],"nice":false,"zero":false}},
  "y":{"field":"y","type":"quantitative","scale":{"domain":[-1.375,28.23],"nice":false,"zero":false}},
  "x2":{"field":"sx"},"y2":{"field":"sy"}}},
{"data":{"name":"pts"},
 "transform":[{"filter":"isValid(datum.g)"}],
 "mark":{"type":"text","font":"Liberation Sans","fontSize":13.5,"color":"black","align":"center","baseline":"middle"},
 "encoding":{
  "x":{"field":"lx","type":"quantitative","scale":{"domain":[-2.91,2.52],"nice":false,"zero":false}},
  "y":{"field":"ly","type":"quantitative","scale":{"domain":[-1.375,28.23],"nice":false,"zero":false}},
  "text":{"field":"g"}}}
]
}
